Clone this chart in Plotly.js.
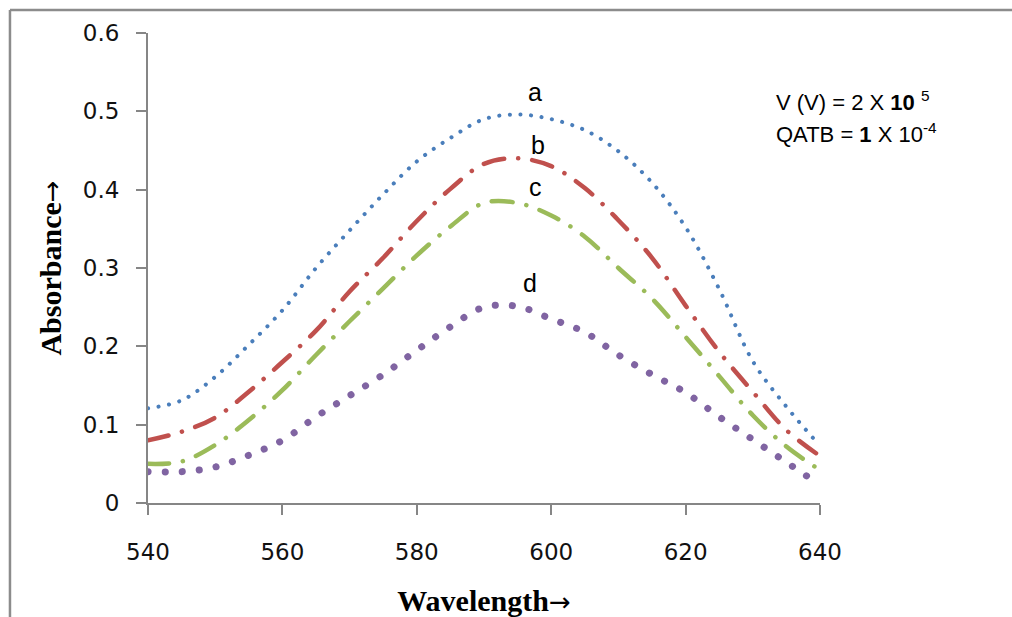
<!DOCTYPE html>
<html>
<head>
<meta charset="utf-8">
<script src="https://cdn.plot.ly/plotly-3.0.1.min.js"></script>
<style>
  html, body { margin: 0; padding: 0; background: #fff; }
  #chart { width: 1012px; height: 617px; }
  .scatterlayer .js-line { stroke-linecap: round; }
</style>
</head>
<body>
<div id="chart"></div>
<script>
// Wavelength (nm)
const wavelength = [540, 545, 550, 555, 560, 565, 570, 575, 580, 585, 590, 595, 600, 605, 610, 615, 620, 625, 630, 635, 640];
// Absorbance series
const seriesA = [0.121, 0.131, 0.161, 0.202, 0.246, 0.300, 0.348, 0.394, 0.436, 0.466, 0.490, 0.496, 0.490, 0.476, 0.449, 0.409, 0.352, 0.273, 0.181, 0.123, 0.073];
const seriesB = [0.080, 0.091, 0.109, 0.142, 0.180, 0.220, 0.270, 0.313, 0.360, 0.401, 0.433, 0.440, 0.430, 0.402, 0.361, 0.313, 0.252, 0.193, 0.142, 0.093, 0.060];
const seriesC = [0.050, 0.053, 0.074, 0.106, 0.144, 0.189, 0.232, 0.274, 0.316, 0.353, 0.383, 0.383, 0.367, 0.340, 0.300, 0.261, 0.212, 0.162, 0.112, 0.072, 0.042];
const seriesD = [0.040, 0.040, 0.046, 0.061, 0.080, 0.110, 0.137, 0.164, 0.195, 0.225, 0.250, 0.251, 0.235, 0.218, 0.189, 0.164, 0.141, 0.110, 0.081, 0.052, 0.023];
const seriesNames = ['a', 'b', 'c', 'd'];
const xTicks = [540, 560, 580, 600, 620, 640];
const yTicks = [0, 0.1, 0.2, 0.3, 0.4, 0.5, 0.6];
const xTitle = 'Wavelength<span style="font-family:DejaVu Sans;font-weight:normal;font-size:26px">→</span>';
const yTitle = 'Absorbance<span style="font-family:DejaVu Sans;font-weight:normal;font-size:26px">→</span>';
const noteLines = ['V (V) = 2 X <b>10</b> <sup>5</sup>', 'QATB = <b>1</b> X 10<sup>-4</sup>'];

const styles = [
  {color: '#4A7EBB', width: 4, dash: '0.1px,10.5px'},
  {color: '#C0504D', width: 4.5, dash: '21px,14px,0.1px,14px'},
  {color: '#9BBB59', width: 4.5, dash: '21px,14px,0.1px,14px'},
  {color: '#8064A2', width: 7, dash: '0.1px,17px'}
];
const allSeries = [seriesA, seriesB, seriesC, seriesD];

const traces = allSeries.map((ys, i) => ({
  x: wavelength,
  y: ys,
  name: seriesNames[i],
  type: 'scatter',
  mode: 'lines',
  line: {shape: 'spline', smoothing: 1, color: styles[i].color, width: styles[i].width, dash: styles[i].dash},
  hoverinfo: 'x+y'
}));

// series labels placed at peak positions
const labelPos = [
  {x: 597.6, y: 0.525},
  {x: 598.0, y: 0.457},
  {x: 597.6, y: 0.404},
  {x: 596.8, y: 0.281}
];
const annotations = seriesNames.map((n, i) => ({
  x: labelPos[i].x, y: labelPos[i].y, xref: 'x', yref: 'y',
  text: n, showarrow: false, xanchor: 'center', yanchor: 'middle',
  font: {family: 'Liberation Sans, Arial, sans-serif', size: 25, color: '#000'}
}));
annotations.push({
  x: 633.2, y: 0.513, xref: 'x', yref: 'y', text: noteLines[0], showarrow: false,
  xanchor: 'left', yanchor: 'middle',
  font: {family: 'Liberation Sans, Arial, sans-serif', size: 22, color: '#000'}
});
annotations.push({
  x: 633.2, y: 0.472, xref: 'x', yref: 'y', text: noteLines[1], showarrow: false,
  xanchor: 'left', yanchor: 'middle',
  font: {family: 'Liberation Sans, Arial, sans-serif', size: 22, color: '#000'}
});

const axisCommon = {
  showgrid: false, zeroline: false, showline: true,
  linecolor: '#868686', linewidth: 2,
  ticks: 'outside', ticklen: 10, tickwidth: 2, tickcolor: '#868686',
  tickfont: {family: 'DejaVu Sans, Verdana, sans-serif', size: 23, color: '#111'}
};

const layout = {
  width: 1012, height: 617,
  margin: {l: 148, r: 192, t: 33, b: 114},
  paper_bgcolor: '#fff', plot_bgcolor: '#fff',
  showlegend: false,
  xaxis: Object.assign({}, axisCommon, {
    range: [540, 640], tickvals: xTicks, ticktext: xTicks.map(String),
    ticklabelstandoff: 17,
    title: {text: xTitle, standoff: 36, font: {family: 'Liberation Serif, Times New Roman, serif', size: 30, color: '#000', weight: 'bold'}}
  }),
  yaxis: Object.assign({}, axisCommon, {
    range: [0, 0.6], tickvals: yTicks, ticktext: yTicks.map(v => String(v)),
    ticklabelstandoff: 12,
    title: {text: yTitle, standoff: 12, font: {family: 'Liberation Serif, Times New Roman, serif', size: 30, color: '#000', weight: 'bold'}}
  }),
  annotations: annotations,
  shapes: [
    {type: 'line', xref: 'paper', yref: 'paper', x0: -0.2054, x1: 1.30, y0: 1.0489, y1: 1.0489, line: {color: '#8C8C8C', width: 2.5}},
    {type: 'line', xref: 'paper', yref: 'paper', x0: -0.2054, x1: -0.2054, y0: 1.0489, y1: -0.26, line: {color: '#8C8C8C', width: 2.5}}
  ]
};

Plotly.newPlot('chart', traces, layout, {displayModeBar: false, staticPlot: true});
</script>
</body>
</html>
